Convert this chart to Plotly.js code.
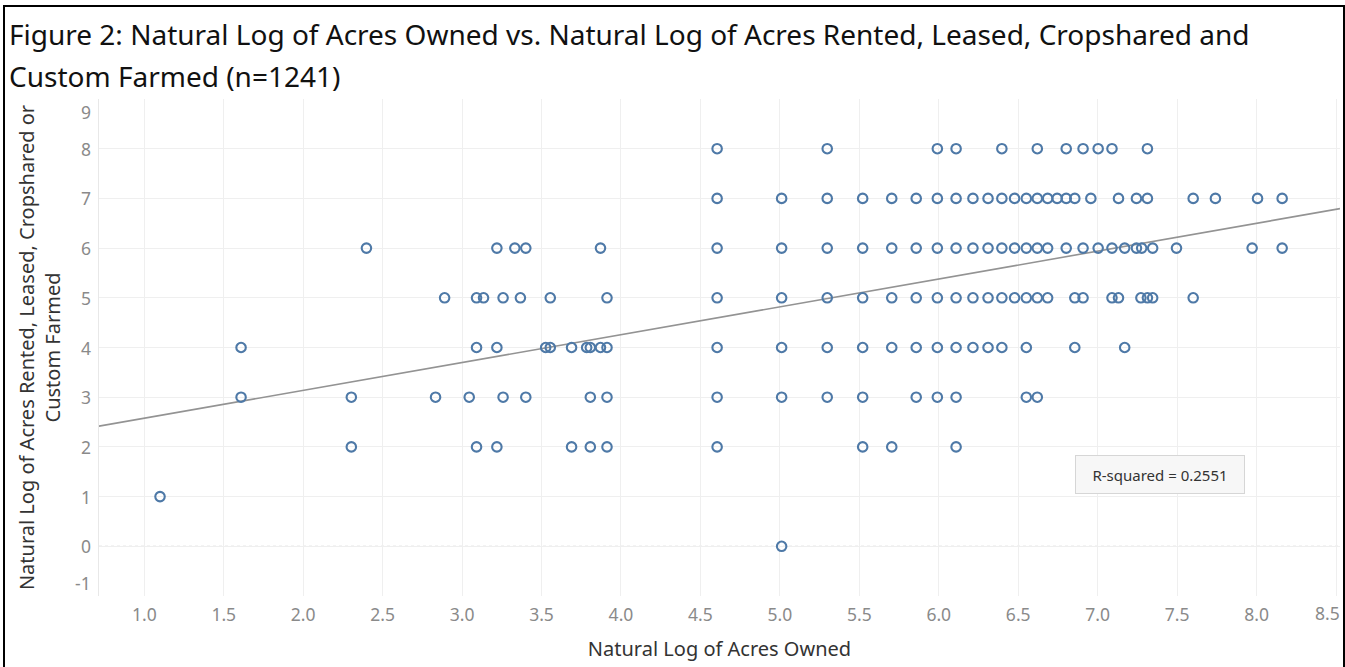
<!DOCTYPE html>
<html>
<head>
<meta charset="utf-8">
<script src="https://cdn.plot.ly/plotly-3.0.1.min.js"></script>
<style>
  html, body { margin: 0; padding: 0; background: #fff; }
  #wrap { position: relative; width: 1345px; height: 667px; overflow: hidden; }
  #chart { position: absolute; left: 0; top: 0; width: 1345px; height: 667px; }
  #frame { position: absolute; left: 3px; top: 5px; width: 1338px; height: 720px; border: 2px solid #000; pointer-events: none; }
</style>
</head>
<body>
<div id="wrap">
  <div id="chart"></div>
  <div id="frame"></div>
</div>
<script>
// ---- Data: natural log of acres owned (x) for each natural-log-of-acres-rented level (y) ----
const ownedAtRented8 = [4.605, 5.298, 5.991, 6.109, 6.397, 6.620, 6.802, 6.908, 7.003, 7.090, 7.313];
const ownedAtRented7 = [4.605, 5.011, 5.298, 5.521, 5.704, 5.858, 5.991, 6.109, 6.215, 6.310, 6.397, 6.477, 6.551, 6.620, 6.685, 6.745, 6.802, 6.856, 6.957, 7.131, 7.244, 7.313, 7.601, 7.741, 8.006, 8.161];
const ownedAtRented6 = [2.398, 3.219, 3.332, 3.401, 3.871, 4.605, 5.011, 5.298, 5.521, 5.704, 5.858, 5.991, 6.109, 6.215, 6.310, 6.397, 6.477, 6.551, 6.620, 6.685, 6.802, 6.908, 7.003, 7.090, 7.170, 7.244, 7.277, 7.346, 7.496, 7.972, 8.161];
const ownedAtRented5 = [2.890, 3.091, 3.135, 3.258, 3.367, 3.555, 3.912, 4.605, 5.011, 5.298, 5.521, 5.704, 5.858, 5.991, 6.109, 6.215, 6.310, 6.397, 6.477, 6.551, 6.620, 6.685, 6.856, 6.908, 7.090, 7.131, 7.272, 7.313, 7.346, 7.601];
const ownedAtRented4 = [1.609, 3.091, 3.219, 3.526, 3.555, 3.689, 3.784, 3.807, 3.871, 3.912, 4.605, 5.011, 5.298, 5.521, 5.704, 5.858, 5.991, 6.109, 6.215, 6.310, 6.397, 6.551, 6.856, 7.170];
const ownedAtRented3 = [1.609, 2.303, 2.833, 3.045, 3.258, 3.401, 3.807, 3.912, 4.605, 5.011, 5.298, 5.521, 5.858, 5.991, 6.109, 6.551, 6.620];
const ownedAtRented2 = [2.303, 3.091, 3.219, 3.689, 3.807, 3.912, 4.605, 5.521, 5.704, 6.109];
const ownedAtRented1 = [1.099];
const ownedAtRented0 = [5.011];

const rentedLevels = [8, 7, 6, 5, 4, 3, 2, 1, 0];
const ownedByLevel = [ownedAtRented8, ownedAtRented7, ownedAtRented6, ownedAtRented5, ownedAtRented4,
                      ownedAtRented3, ownedAtRented2, ownedAtRented1, ownedAtRented0];

// Linear trend reported by the source chart
const trendSlope = 0.5603;
const trendIntercept = 2.017;
const rSquaredText = "R-squared = 0.2551";

// Tick values and labels
const xTicks = [1.0, 1.5, 2.0, 2.5, 3.0, 3.5, 4.0, 4.5, 5.0, 5.5, 6.0, 6.5, 7.0, 7.5, 8.0, 8.5];
const xTickText = ["1.0", "1.5", "2.0", "2.5", "3.0", "3.5", "4.0", "4.5", "5.0", "5.5", "6.0", "6.5", "7.0", "7.5", "8.0", "8.5"];
const yTicks = [-1, 0, 1, 2, 3, 4, 5, 6, 7, 8, 9];
const yTickText = ["-1", "0", "1", "2", "3", "4", "5", "6", "7", "8", "9"];

const titleLine1 = "Figure 2: Natural Log of Acres Owned vs. Natural Log of Acres Rented, Leased, Cropshared and";
const titleLine2 = "Custom Farmed (n=1241)";
const xTitle = "Natural Log of Acres Owned";
const yTitle = "Natural Log of Acres Rented, Leased, Cropshared or<br>Custom Farmed";

// ---- Build traces ----
const xs = [], ys = [];
rentedLevels.forEach((lvl, i) => {
  ownedByLevel[i].forEach(v => { xs.push(v); ys.push(lvl); });
});

const xRange = [0.715, 8.525];
const yRange = [-1, 9];

const FONT = "Noto Sans, Open Sans, DejaVu Sans, sans-serif";
const TICK_COLOR = "#8a8a8a";
const TICK_SIZE = 17.5;

const scatter = {
  type: "scatter", mode: "markers", x: xs, y: ys,
  marker: { symbol: "circle-open", size: 9.5, color: "#4E79A7", line: { width: 2.1, color: "#4E79A7" } },
  hoverinfo: "x+y", showlegend: false
};

const trend = {
  type: "scatter", mode: "lines",
  x: xRange,
  y: xRange.map(v => trendIntercept + trendSlope * v),
  line: { color: "#939393", width: 1.6 },
  hoverinfo: "skip", showlegend: false
};

// y tick labels drawn as annotations so the end labels stay inside the pane, as in the source
const yLabelAnns = yTicks.map((v, i) => ({
  text: yTickText[i], xref: "paper", yref: "y", x: 0, y: v,
  xanchor: "right", yanchor: "middle", xshift: -6,
  yshift: i === yTicks.length - 1 ? -13 : (i === 0 ? 13 : 0),
  showarrow: false, font: { family: FONT, size: TICK_SIZE, color: TICK_COLOR }
}));

// the last x label is nudged inward (as the source does) so it is not cut by the frame
const lastX = xTicks.length - 1;
const xTickTextShown = xTickText.map((t, i) => (i === lastX ? "" : t));
const lastXLabelAnn = {
  text: xTickText[lastX], xref: "x", yref: "paper", x: xTicks[lastX], y: 0,
  xanchor: "center", yanchor: "middle", xshift: -9, yshift: -17,
  showarrow: false, font: { family: FONT, size: TICK_SIZE, color: TICK_COLOR }
};

const layout = {
  width: 1345, height: 667,
  margin: { l: 99, r: 5, t: 99, b: 71, pad: 0 },
  paper_bgcolor: "#fff", plot_bgcolor: "#fff",
  font: { family: FONT, color: "#333" },
  title: {
    text: titleLine1,
    x: 9 / 1345, xanchor: "left", xref: "container",
    y: 1 - 35 / 667, yanchor: "middle", yref: "container",
    font: { family: FONT, size: 28, color: "#111" }
  },
  xaxis: {
    range: xRange, tickvals: xTicks, ticktext: xTickTextShown,
    showgrid: true, gridcolor: "#efefef", gridwidth: 1,
    zeroline: false, showline: false, ticks: "",
    ticklabelstandoff: 6,
    tickfont: { family: FONT, size: TICK_SIZE, color: TICK_COLOR },
    title: { text: xTitle, font: { family: FONT, size: 20, color: "#333" }, standoff: 17 }
  },
  yaxis: {
    range: yRange, tickvals: yTicks, showticklabels: false,
    showgrid: true, gridcolor: "#efefef", gridwidth: 1,
    zeroline: false, showline: true, linecolor: "#e8e8e8", linewidth: 1, ticks: "",
    title: { text: yTitle, font: { family: FONT, size: 20, color: "#333" }, standoff: 32 }
  },
  shapes: [
    { type: "line", xref: "paper", x0: 0, x1: 1, yref: "y", y0: 0, y1: 0,
      line: { color: "#c4c4c4", width: 1, dash: "dot" }, layer: "below" }
  ],
  annotations: [
    { text: titleLine2, xref: "paper", yref: "paper",
      x: (7 - 99) / 1241, xanchor: "left", y: (596 - 76) / 497, yanchor: "middle",
      showarrow: false, font: { family: FONT, size: 28, color: "#111" } },
    { text: rSquaredText, xref: "paper", yref: "paper",
      x: (1159.5 - 99) / 1241, y: (596 - 474.7) / 497, xanchor: "center", yanchor: "middle",
      showarrow: false, width: 168, height: 37, borderpad: 0,
      bgcolor: "#f7f7f7", bordercolor: "#d6d6d6", borderwidth: 1,
      font: { family: FONT, size: 15, color: "#333" } },
    lastXLabelAnn
  ].concat(yLabelAnns)
};

Plotly.newPlot("chart", [trend, scatter], layout, { displayModeBar: false, responsive: false });
</script>
</body>
</html>
